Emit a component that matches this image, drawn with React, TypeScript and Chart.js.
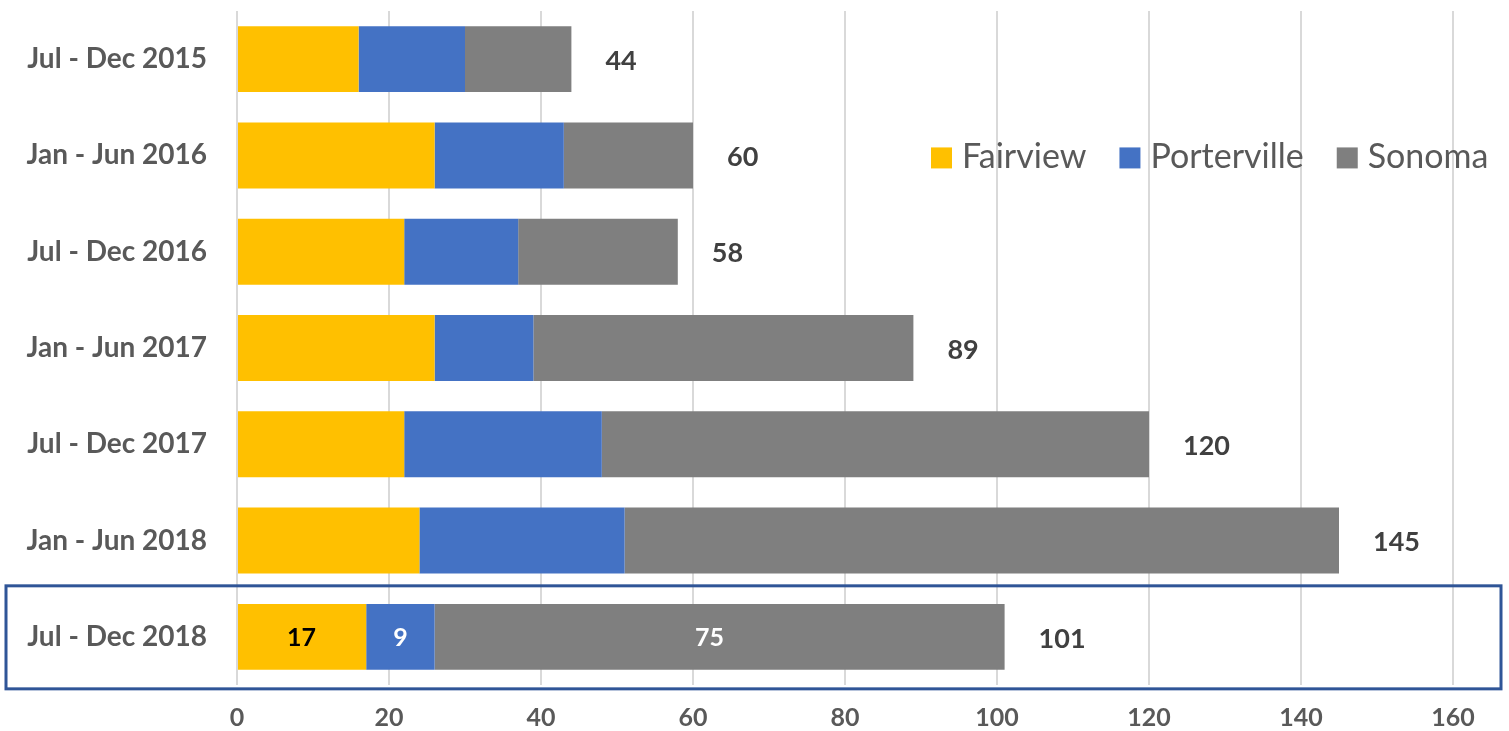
import React, { useEffect, useRef } from "react";
import { Chart, registerables } from "chart.js";

Chart.register(...registerables);

const categories = [
  "Jul - Dec 2015",
  "Jan - Jun 2016",
  "Jul - Dec 2016",
  "Jan - Jun 2017",
  "Jul - Dec 2017",
  "Jan - Jun 2018",
  "Jul - Dec 2018",
];
const fairview = [16, 26, 22, 26, 22, 24, 17];
const porterville = [14, 17, 15, 13, 26, 27, 9];
const sonoma = [14, 17, 21, 50, 72, 94, 75];
const xTicks = [0, 20, 40, 60, 80, 100, 120, 140, 160];

const seriesNames = ["Fairview", "Porterville", "Sonoma"];
const seriesColors = ["#FFC000", "#4472C4", "#7F7F7F"];
const FONT = "Lato, 'Open Sans', sans-serif";

const labelsPlugin = {
  id: "customLabels",
  afterDatasetsDraw(chart: any) {
    const ctx = chart.ctx;
    const xs = chart.scales.x;
    const ys = chart.scales.y;
    ctx.save();
    // totals
    ctx.font = `bold 27px ${FONT}`;
    ctx.fillStyle = "#404040";
    ctx.textAlign = "left";
    ctx.textBaseline = "middle";
    categories.forEach((_, i) => {
      const total = fairview[i] + porterville[i] + sonoma[i];
      const x = xs.getPixelForValue(total);
      const y = ys.getPixelForValue(i);
      ctx.fillText(String(total), x + 34, y + 2);
    });
    // segment labels for last row
    const last = categories.length - 1;
    const segs = [fairview[last], porterville[last], sonoma[last]];
    const segColors = ["#000000", "#FFFFFF", "#FFFFFF"];
    let start = 0;
    ctx.textAlign = "center";
    ctx.font = `bold 25px ${FONT}`;
    segs.forEach((v, k) => {
      const x0 = xs.getPixelForValue(start);
      const x1 = xs.getPixelForValue(start + v);
      ctx.fillStyle = segColors[k];
      ctx.fillText(String(v), (x0 + x1) / 2 - (k === 2 ? 10 : 0), ys.getPixelForValue(last) + 1);
      start += v;
    });
    // highlight box
    const yc = ys.getPixelForValue(last);
    const step = ys.getPixelForValue(1) - ys.getPixelForValue(0);
    ctx.strokeStyle = "#2F5597";
    ctx.lineWidth = 3;
    ctx.strokeRect(6, yc - step * 0.53, chart.width - 14, step * 1.07);
    // legend
    ctx.font = `34px ${FONT}`;
    ctx.textAlign = "left";
    ctx.textBaseline = "middle";
    const ly = ys.getPixelForValue(1) + 2;
    let lx = 931;
    seriesNames.forEach((name, k) => {
      ctx.fillStyle = seriesColors[k];
      ctx.fillRect(lx, ly - 10, 21, 21);
      ctx.fillStyle = "#595959";
      ctx.fillText(name, lx + 31, ly);
      lx += 31 + ctx.measureText(name).width + 33;
    });
    ctx.restore();
  },
};

export default function App() {
  const ref = useRef<HTMLCanvasElement>(null);
  useEffect(() => {
    if (!ref.current) return;
    const chart = new Chart(ref.current, {
      type: "bar",
      data: {
        labels: categories,
        datasets: [fairview, porterville, sonoma].map((d, k) => ({
          label: seriesNames[k],
          data: d,
          backgroundColor: seriesColors[k],
          borderWidth: 0,
          categoryPercentage: 1,
          barPercentage: 0.685,
        })),
      },
      options: {
        indexAxis: "y",
        animation: false,
        responsive: false,
        maintainAspectRatio: false,
        layout: { padding: { top: 11, right: 56, left: 0, bottom: 0 } },
        plugins: {
          legend: { display: false },
          tooltip: { enabled: false },
        },
        scales: {
          x: {
            stacked: true,
            min: 0,
            max: 160,
            afterBuildTicks: (s: any) => {
              s.ticks = xTicks.map((v) => ({ value: v }));
            },
            afterFit: (s: any) => {
              s.height = 46;
              s.paddingLeft = 0;
              s.paddingRight = 0;
            },
            grid: { color: "#D9D9D9", lineWidth: 2, drawTicks: false },
            border: { display: false },
            ticks: {
              color: "#595959",
              font: { family: FONT, size: 25, weight: "bold" },
              padding: 18,
            },
          },
          y: {
            stacked: true,
            afterFit: (s: any) => {
              s.width = 237;
              s.paddingTop = 0;
              s.paddingBottom = 0;
            },
            grid: { display: false, drawTicks: false },
            border: { display: false },
            ticks: {
              color: "#595959",
              font: { family: FONT, size: 28, weight: "bold" },
              padding: 30,
            },
          },
        },
      },
      plugins: [labelsPlugin],
    });
    return () => chart.destroy();
  }, []);
  return (
    <div style={{ position: "fixed", left: 0, top: 0, width: 1509, height: 731, background: "#fff" }}>
      <canvas ref={ref} width={1509} height={731} style={{ width: 1509, height: 731 }} />
    </div>
  );
}
